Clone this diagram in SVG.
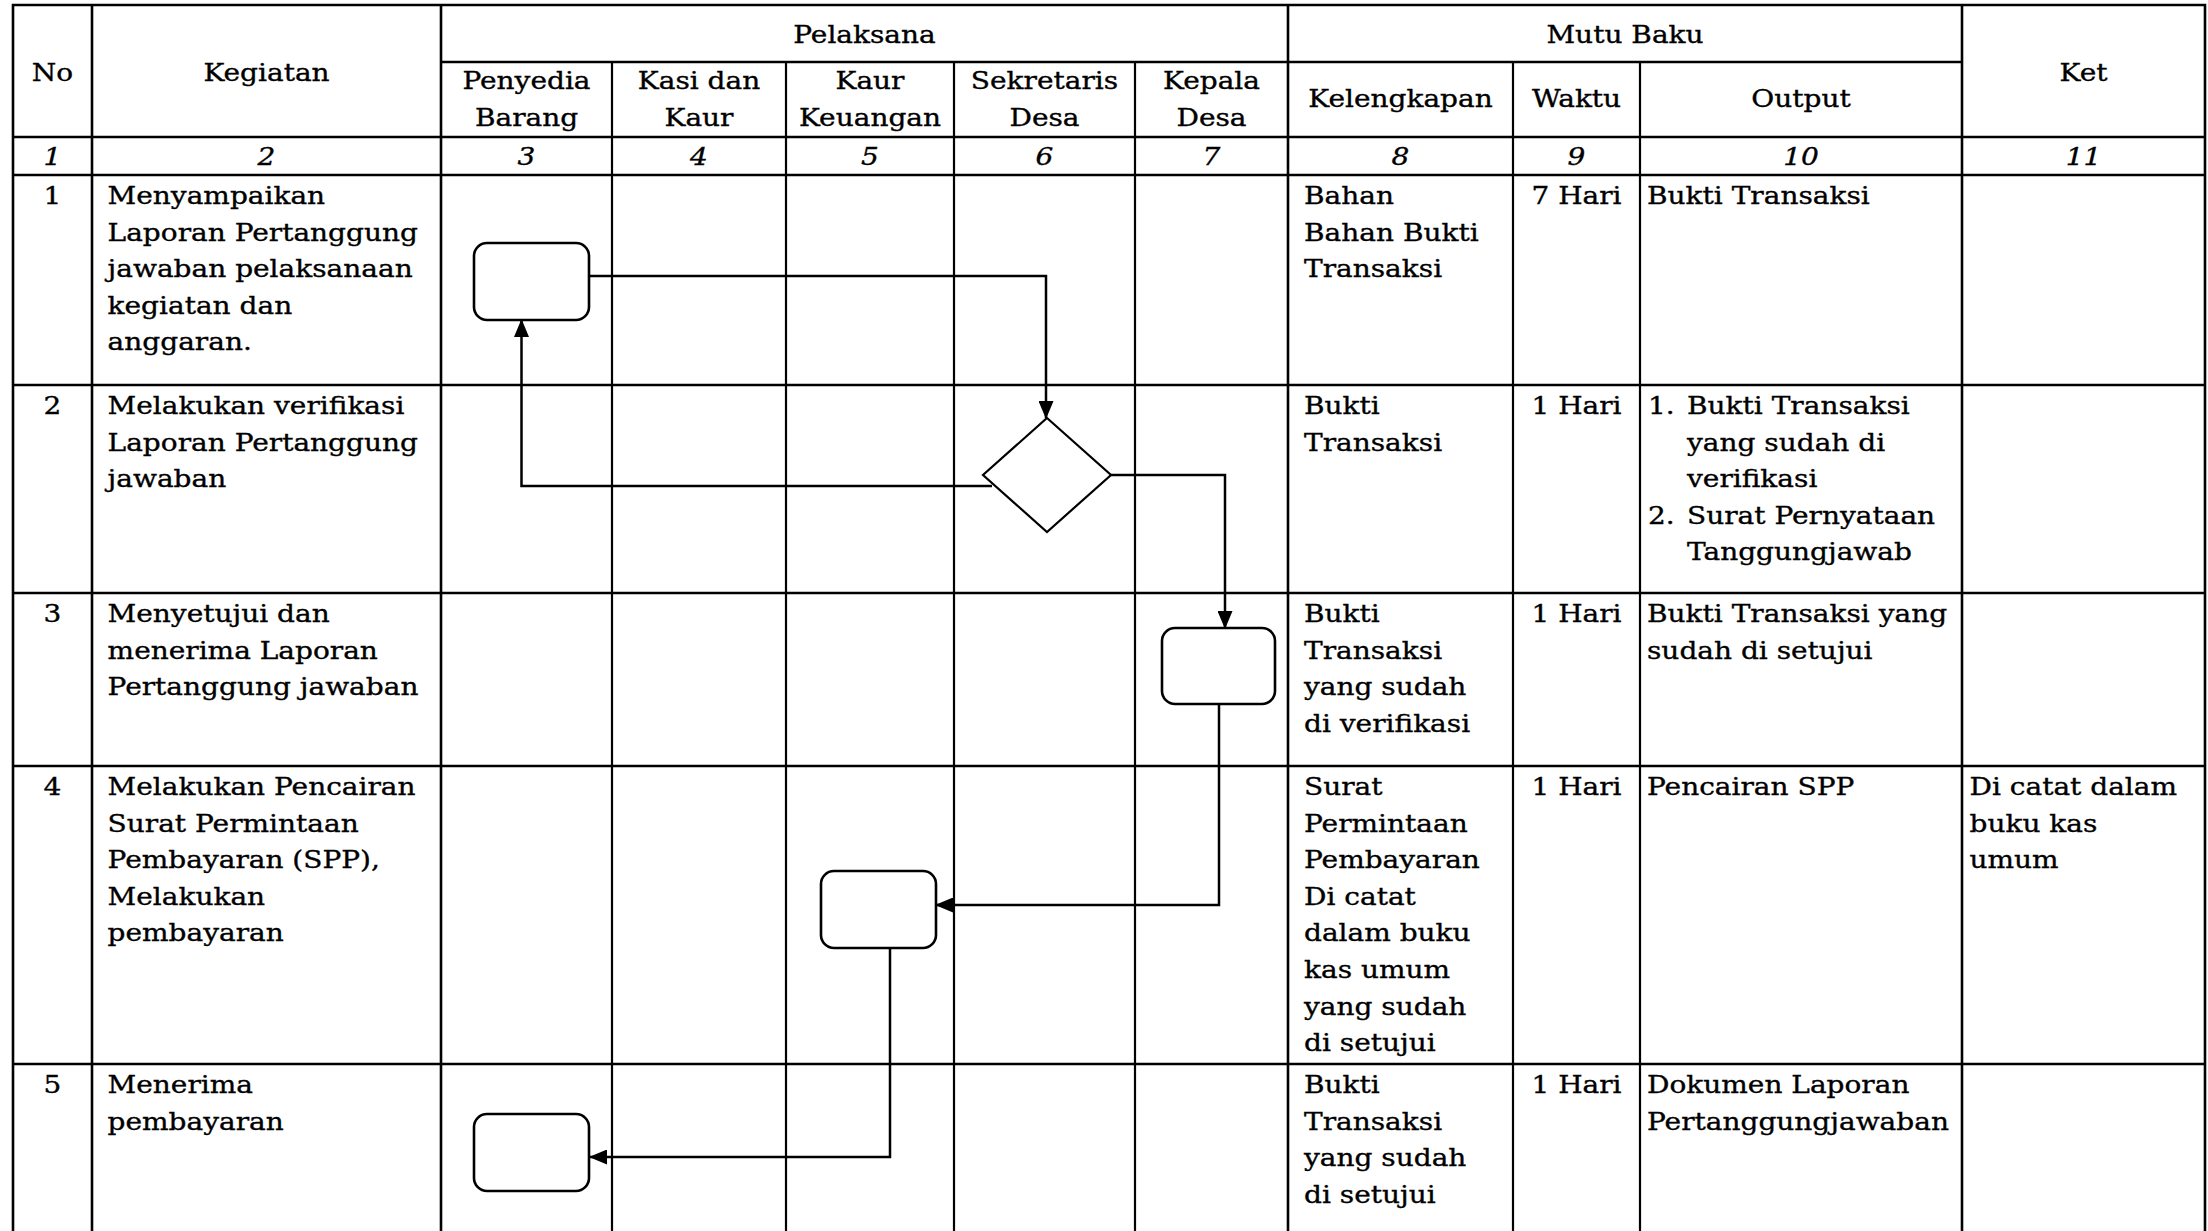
<svg xmlns="http://www.w3.org/2000/svg" width="2208" height="1231" viewBox="0 0 2208 1231">
<style>
.t{font-family:"DejaVu Serif","Liberation Serif",serif;font-size:25px;fill:#000;stroke:#000;stroke-width:0.35}
.c{text-anchor:middle}
.i{font-style:italic}
.g{stroke:#000;stroke-width:2.6;fill:none}
.gi{stroke:#000;stroke-width:2.2;fill:none}
.node{fill:#fff;stroke:#000;stroke-width:2.6}
.conn{stroke:#000;stroke-width:2.5;fill:none;marker-end:url(#arr)}
</style>
<defs>
<marker id="arr" markerUnits="userSpaceOnUse" markerWidth="18" markerHeight="15" refX="17" refY="7.5" orient="auto">
<path d="M0,0 L18,7.5 L0,15 z" fill="#000"/>
</marker>
</defs>
<rect x="0" y="0" width="2208" height="1231" fill="#fff"/>

<g id="grid">
<path class="g" d="M13,1231 V5 H2205 V1231"/>
<path class="g" d="M441,62 H1962"/>
<path class="g" d="M13,137 H2205 M13,175 H2205 M13,385 H2205 M13,593 H2205 M13,766 H2205 M13,1064 H2205"/>
<path class="g" d="M92,5 V1231 M441,5 V1231 M1288,5 V1231 M1962,5 V1231"/>
<path class="gi" d="M612,62 V1231 M786,62 V1231 M954,62 V1231 M1135,62 V1231 M1513,62 V1231 M1640,62 V1231"/>
</g>

<g id="header">
<text class="t c" transform="translate(52.5,81) scale(1.12,1)">No</text>
<text class="t c" transform="translate(266.5,81) scale(1.12,1)">Kegiatan</text>
<text class="t c" transform="translate(864.5,43) scale(1.12,1)">Pelaksana</text>
<text class="t c" transform="translate(1625,43) scale(1.12,1)">Mutu Baku</text>
<text class="t c" transform="translate(2083.5,81) scale(1.12,1)">Ket</text>
<text class="t c" transform="translate(526.5,89) scale(1.12,1)"><tspan x="0" y="0">Penyedia</tspan><tspan x="0" dy="36.6">Barang</tspan></text>
<text class="t c" transform="translate(699,89) scale(1.12,1)"><tspan x="0" y="0">Kasi dan</tspan><tspan x="0" dy="36.6">Kaur</tspan></text>
<text class="t c" transform="translate(870,89) scale(1.12,1)"><tspan x="0" y="0">Kaur</tspan><tspan x="0" dy="36.6">Keuangan</tspan></text>
<text class="t c" transform="translate(1044.5,89) scale(1.12,1)"><tspan x="0" y="0">Sekretaris</tspan><tspan x="0" dy="36.6">Desa</tspan></text>
<text class="t c" transform="translate(1211.5,89) scale(1.12,1)"><tspan x="0" y="0">Kepala</tspan><tspan x="0" dy="36.6">Desa</tspan></text>
<text class="t c" transform="translate(1400.5,107) scale(1.12,1)">Kelengkapan</text>
<text class="t c" transform="translate(1576.5,107) scale(1.12,1)">Waktu</text>
<text class="t c" transform="translate(1801,107) scale(1.12,1)">Output</text>
</g>

<g id="colnumbers">
<text class="t c i" transform="translate(52.5,165) scale(1.12,1)">1</text>
<text class="t c i" transform="translate(266.5,165) scale(1.12,1)">2</text>
<text class="t c i" transform="translate(526.5,165) scale(1.12,1)">3</text>
<text class="t c i" transform="translate(699,165) scale(1.12,1)">4</text>
<text class="t c i" transform="translate(870,165) scale(1.12,1)">5</text>
<text class="t c i" transform="translate(1044.5,165) scale(1.12,1)">6</text>
<text class="t c i" transform="translate(1211.5,165) scale(1.12,1)">7</text>
<text class="t c i" transform="translate(1400.5,165) scale(1.12,1)">8</text>
<text class="t c i" transform="translate(1576.5,165) scale(1.12,1)">9</text>
<text class="t c i" transform="translate(1801,165) scale(1.12,1)">10</text>
<text class="t c i" transform="translate(2083.5,165) scale(1.12,1)">11</text>
</g>

<g id="row1">
<text class="t c" transform="translate(52.5,204) scale(1.12,1)">1</text>
<text class="t" transform="translate(107.6,204) scale(1.12,1)"><tspan x="0" y="0">Menyampaikan</tspan><tspan x="0" dy="36.6">Laporan Pertanggung</tspan><tspan x="0" dy="36.6">jawaban pelaksanaan</tspan><tspan x="0" dy="36.6">kegiatan dan</tspan><tspan x="0" dy="36.6">anggaran.</tspan></text>
<text class="t" transform="translate(1304,204) scale(1.12,1)"><tspan x="0" y="0">Bahan</tspan><tspan x="0" dy="36.6">Bahan Bukti</tspan><tspan x="0" dy="36.6">Transaksi</tspan></text>
<text class="t c" transform="translate(1576.5,204) scale(1.12,1)">7 Hari</text>
<text class="t" transform="translate(1647,204) scale(1.12,1)">Bukti Transaksi</text>
</g>

<g id="row2">
<text class="t c" transform="translate(52.5,414) scale(1.12,1)">2</text>
<text class="t" transform="translate(107.6,414) scale(1.12,1)"><tspan x="0" y="0">Melakukan verifikasi</tspan><tspan x="0" dy="36.6">Laporan Pertanggung</tspan><tspan x="0" dy="36.6">jawaban</tspan></text>
<text class="t" transform="translate(1304,414) scale(1.12,1)"><tspan x="0" y="0">Bukti</tspan><tspan x="0" dy="36.6">Transaksi</tspan></text>
<text class="t c" transform="translate(1576.5,414) scale(1.12,1)">1 Hari</text>
<text class="t" transform="translate(1648,414) scale(1.12,1)"><tspan x="0" y="0">1.</tspan><tspan x="0" y="109.8">2.</tspan></text>
<text class="t" transform="translate(1687,414) scale(1.12,1)"><tspan x="0" y="0">Bukti Transaksi</tspan><tspan x="0" dy="36.6">yang sudah di</tspan><tspan x="0" dy="36.6">verifikasi</tspan><tspan x="0" dy="36.6">Surat Pernyataan</tspan><tspan x="0" dy="36.6">Tanggungjawab</tspan></text>
</g>

<g id="row3">
<text class="t c" transform="translate(52.5,622) scale(1.12,1)">3</text>
<text class="t" transform="translate(107.6,622) scale(1.12,1)"><tspan x="0" y="0">Menyetujui dan</tspan><tspan x="0" dy="36.6">menerima Laporan</tspan><tspan x="0" dy="36.6">Pertanggung jawaban</tspan></text>
<text class="t" transform="translate(1304,622) scale(1.12,1)"><tspan x="0" y="0">Bukti</tspan><tspan x="0" dy="36.6">Transaksi</tspan><tspan x="0" dy="36.6">yang sudah</tspan><tspan x="0" dy="36.6">di verifikasi</tspan></text>
<text class="t c" transform="translate(1576.5,622) scale(1.12,1)">1 Hari</text>
<text class="t" transform="translate(1647,622) scale(1.12,1)"><tspan x="0" y="0">Bukti Transaksi yang</tspan><tspan x="0" dy="36.6">sudah di setujui</tspan></text>
</g>

<g id="row4">
<text class="t c" transform="translate(52.5,795) scale(1.12,1)">4</text>
<text class="t" transform="translate(107.6,795) scale(1.12,1)"><tspan x="0" y="0">Melakukan Pencairan</tspan><tspan x="0" dy="36.6">Surat Permintaan</tspan><tspan x="0" dy="36.6">Pembayaran (SPP),</tspan><tspan x="0" dy="36.6">Melakukan</tspan><tspan x="0" dy="36.6">pembayaran</tspan></text>
<text class="t" transform="translate(1304,795) scale(1.12,1)"><tspan x="0" y="0">Surat</tspan><tspan x="0" dy="36.6">Permintaan</tspan><tspan x="0" dy="36.6">Pembayaran</tspan><tspan x="0" dy="36.6">Di catat</tspan><tspan x="0" dy="36.6">dalam buku</tspan><tspan x="0" dy="36.6">kas umum</tspan><tspan x="0" dy="36.6">yang sudah</tspan><tspan x="0" dy="36.6">di setujui</tspan></text>
<text class="t c" transform="translate(1576.5,795) scale(1.12,1)">1 Hari</text>
<text class="t" transform="translate(1647,795) scale(1.12,1)">Pencairan SPP</text>
<text class="t" transform="translate(1969.5,795) scale(1.12,1)"><tspan x="0" y="0">Di catat dalam</tspan><tspan x="0" dy="36.6">buku kas</tspan><tspan x="0" dy="36.6">umum</tspan></text>
</g>

<g id="row5">
<text class="t c" transform="translate(52.5,1093) scale(1.12,1)">5</text>
<text class="t" transform="translate(107.6,1093) scale(1.12,1)"><tspan x="0" y="0">Menerima</tspan><tspan x="0" dy="36.6">pembayaran</tspan></text>
<text class="t" transform="translate(1304,1093) scale(1.12,1)"><tspan x="0" y="0">Bukti</tspan><tspan x="0" dy="36.6">Transaksi</tspan><tspan x="0" dy="36.6">yang sudah</tspan><tspan x="0" dy="36.6">di setujui</tspan></text>
<text class="t c" transform="translate(1576.5,1093) scale(1.12,1)">1 Hari</text>
<text class="t" transform="translate(1647,1093) scale(1.12,1)"><tspan x="0" y="0">Dokumen Laporan</tspan><tspan x="0" dy="36.6">Pertanggungjawaban</tspan></text>
</g>

<g id="connectors">
<path class="conn" d="M589,276 H1046 V418"/>
<path class="conn" d="M992,486 H521.5 V320"/>
<path class="conn" d="M1111,475 H1225 V628"/>
<path class="conn" d="M1219,704 V905 H936"/>
<path class="conn" d="M890,948 V1157 H590"/>
</g>

<g id="node-penyedia-1"><rect class="node" x="474" y="243" width="115" height="77" rx="13"/></g>
<g id="node-sekretaris-2"><polygon class="node" points="1047,418 1111,475 1047,532 983,475" style="stroke-width:2.2"/></g>
<g id="node-kepala-3"><rect class="node" x="1162" y="628" width="113" height="76" rx="13"/></g>
<g id="node-keuangan-4"><rect class="node" x="821" y="871" width="115" height="77" rx="13"/></g>
<g id="node-penyedia-5"><rect class="node" x="474" y="1114" width="115" height="77" rx="13"/></g>
</svg>
